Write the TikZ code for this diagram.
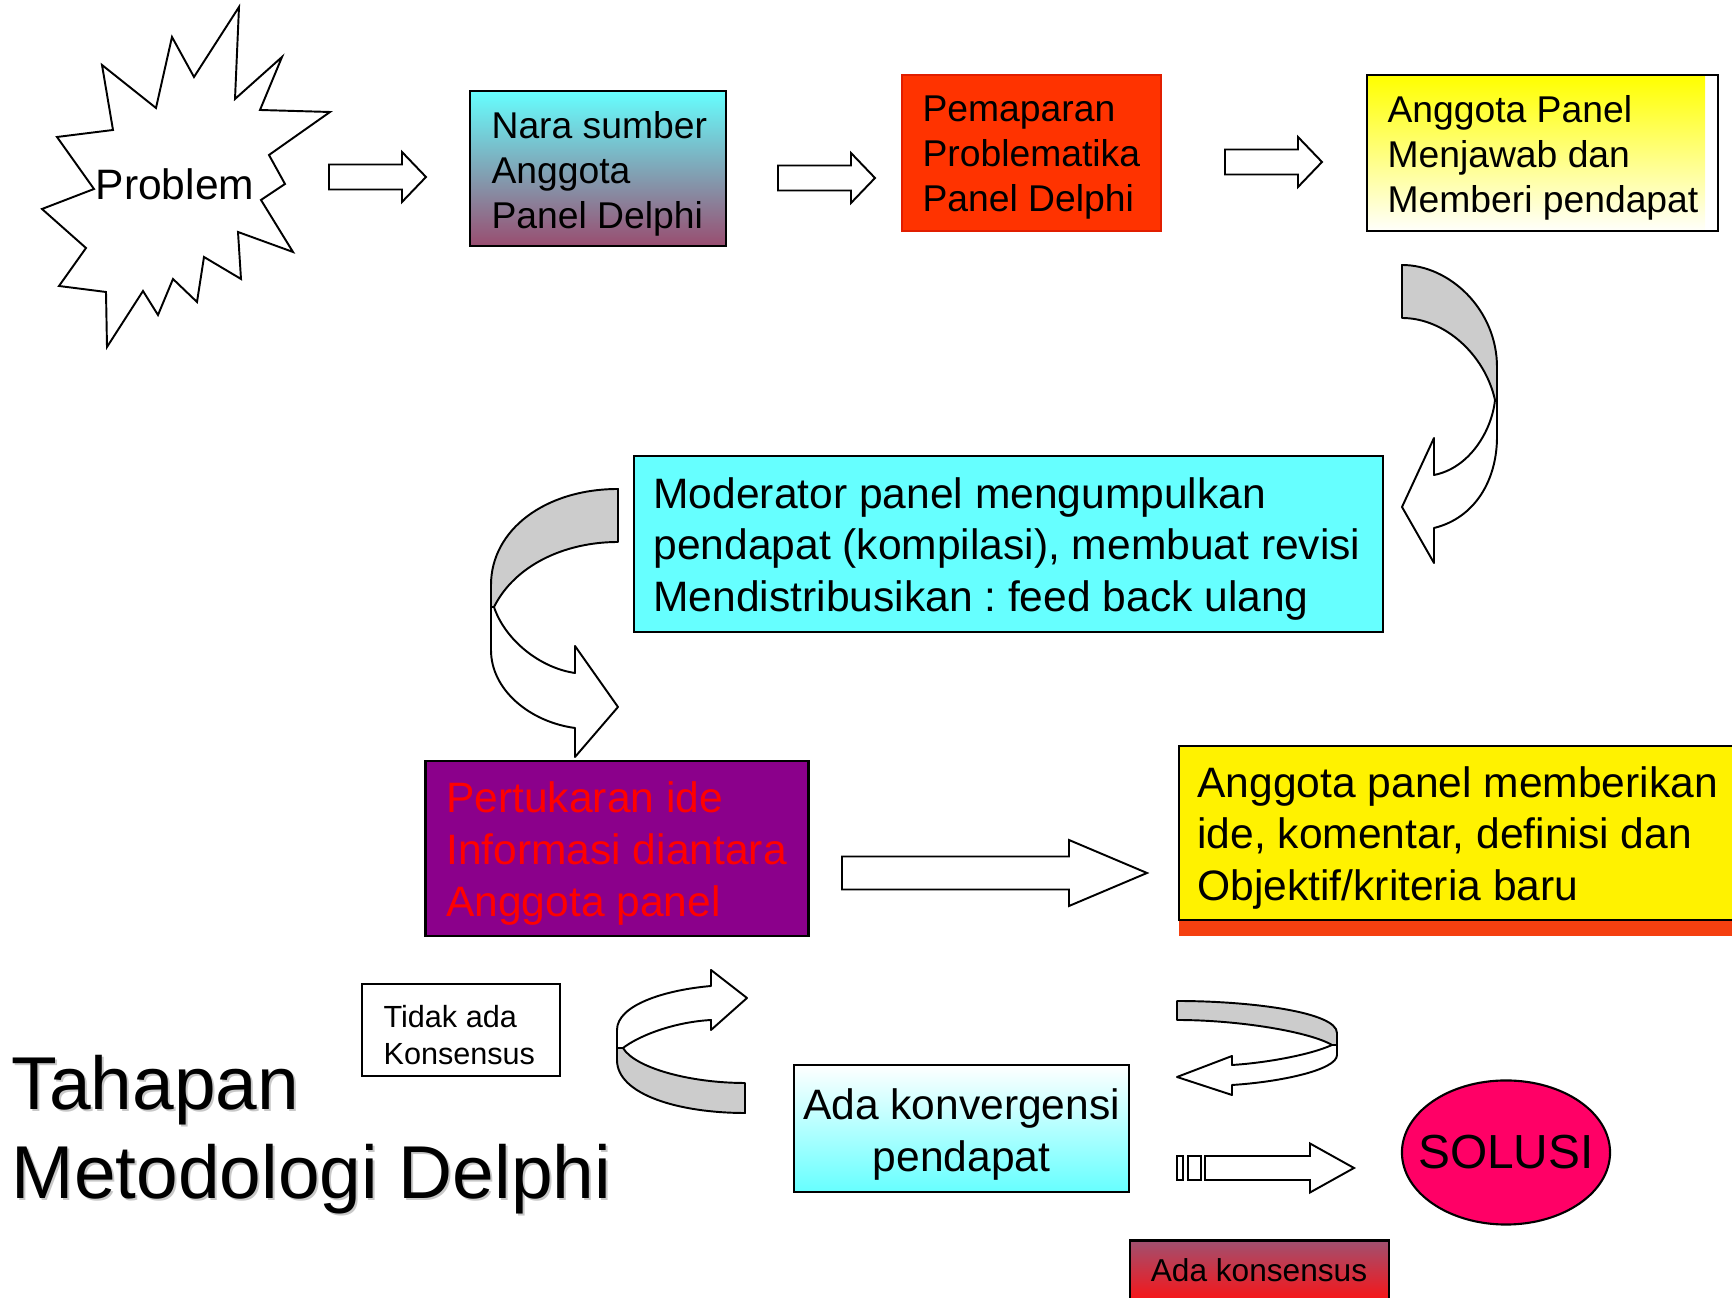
\documentclass[tikz,border=0pt]{standalone}
\usepackage{fontspec}
\setmainfont{Liberation Sans}
\usetikzlibrary{shapes.geometric}
\frenchspacing
\definecolor{cyanbox}{RGB}{102,255,255}
\definecolor{mauve}{RGB}{153,77,112}
\definecolor{redorange}{RGB}{255,51,0}
\definecolor{redline}{RGB}{225,30,0}
\definecolor{purplebox}{RGB}{139,0,139}
\definecolor{stripred}{RGB}{245,64,16}
\definecolor{solusipink}{RGB}{255,0,102}
\definecolor{konsmauve}{RGB}{160,80,112}
\definecolor{konsred}{RGB}{255,16,16}
\definecolor{bandgrey}{RGB}{204,204,204}
\definecolor{titleshadow}{RGB}{200,200,200}
\newcommand{\fatarrow}[6]{%
  \draw[blockarrow] (#1,{#4-#5}) -- (#2,{#4-#5}) -- (#2,{#4-#6}) -- (#3,#4)
    -- (#2,{#4+#6}) -- (#2,{#4+#5}) -- (#1,{#4+#5}) -- cycle;}
\begin{document}
\begin{tikzpicture}[x=0.01cm, y=-0.01cm,
    box/.style={draw, line width=0.6pt, inner sep=0pt},
    txt/.style={align=left, inner sep=0pt, anchor=west, yshift=-0.05cm},
    band/.style={draw, line width=0.55pt, line join=round},
    blockarrow/.style={draw, line width=0.55pt, fill=white},
    fsmall/.style={font=\fontsize{10.6}{12.8}\selectfont},
    fmid/.style={font=\fontsize{12.1}{14.7}\selectfont},
    ftiny/.style={font=\fontsize{8.7}{10.5}\selectfont},
    title/.style={font=\fontsize{21.3}{25}\selectfont, anchor=base west, inner sep=0pt}]
  \useasboundingbox (0,0) rectangle (1732,1298);

  \draw[line width=0.55pt, fill=white] (239,7) -- (235,99) -- (282,57) -- (260,110) -- (330,112)
    -- (269,155) -- (285,184) -- (261,200) -- (293,252) -- (238,232) -- (241,279) -- (204,257)
    -- (197,302) -- (173,279) -- (158,315) -- (143,291) -- (107,347) -- (106,292) -- (59,286)
    -- (86,248) -- (42,209) -- (94,189) -- (57,137) -- (113,130) -- (102,65) -- (156,108)
    -- (172,37) -- (194,77) -- cycle;
  \node[fmid, inner sep=0pt] (problem) at (175,184) {Problem};

  \fatarrow{329}{402}{426}{177}{12.5}{25}
  \fatarrow{778}{851}{875}{178}{12.5}{25}
  \fatarrow{1225}{1298}{1322}{162}{12.5}{25}
  \fatarrow{842}{1069}{1147}{873}{16.5}{33}
  \fatarrow{1205}{1310}{1354}{1168}{12}{24.5}
  \draw[blockarrow] (1177,1156) rectangle (1183,1180);
  \draw[blockarrow] (1188,1156) rectangle (1201,1180);

  \node[box, top color=cyanbox, bottom color=mauve, minimum width=2.56cm, minimum height=1.55cm] (nara) at (598,168.5) {};
  \node[txt, fsmall] (naratext) at ([xshift=0.22cm]nara.west) {Nara sumber\\Anggota\\Panel Delphi};

  \node[box, fill=redorange, draw=redline, minimum width=2.59cm, minimum height=1.56cm] (pemaparan) at (1031.5,153) {};
  \node[txt, fsmall] (pemaparantext) at ([xshift=0.21cm]pemaparan.west) {Pemaparan\\Problematika\\Panel Delphi};

  \shade[top color=yellow, bottom color=yellow!2] (1368,76) rectangle (1705,230);
  \node[box, minimum width=3.51cm, minimum height=1.56cm] (anggota) at (1542.5,153) {};
  \node[txt, fsmall] (anggotatext) at ([xshift=0.21cm]anggota.west) {Anggota Panel\\Menjawab dan\\Memberi pendapat};

  \draw[band, fill=bandgrey] (1402,265) .. controls (1450,265) and (1497,310) .. (1497,367) -- (1497,400)
    -- (1495,400) .. controls (1485,355) and (1445,318) .. (1402,318) -- cycle;
  \draw[band, fill=white] (1495,400) .. controls (1492,430) and (1470,468) .. (1434,475) -- (1434,438)
    -- (1402,507) -- (1434,563) -- (1434,528) .. controls (1475,518) and (1497,480) .. (1497,437) -- (1497,400) -- cycle;

  \node[box, fill=cyanbox, minimum width=7.49cm, minimum height=1.76cm] (moderator) at (1008.5,544) {};
  \node[txt, fmid] (moderatortext) at ([xshift=0.2cm]moderator.west) {Moderator panel mengumpulkan\\pendapat (kompilasi), membuat revisi\\Mendistribusikan : feed back ulang};

  \draw[band, fill=bandgrey] (618,489) .. controls (545,489) and (491,530) .. (491,585) -- (491,607)
    -- (494,607) .. controls (515,565) and (565,542) .. (618,542) -- cycle;
  \draw[band, fill=white] (494,607) .. controls (505,640) and (540,668) .. (575,673) -- (575,646)
    -- (618,707) -- (575,757) -- (575,728) .. controls (530,722) and (491,690) .. (491,650) -- (491,607) -- cycle;

  \node[box, fill=purplebox, line width=0.8pt, minimum width=3.82cm, minimum height=1.75cm] (tukar) at (617,848.5) {};
  \node[txt, fmid, text=red] (tukartext) at ([xshift=0.21cm]tukar.west) {Pertukaran ide\\Informasi diantara\\Anggota panel};

  \fill[stripred] (1179,920) rectangle (1745,936);
  \node[box, fill=yellow, minimum width=5.66cm, minimum height=1.74cm] (ide) at (1462,833) {};
  \node[txt, fmid] (idetext) at ([xshift=0.19cm]ide.west) {Anggota panel memberikan\\ide, komentar, definisi dan\\Objektif/kriteria baru};

  \node[box, fill=white, minimum width=1.98cm, minimum height=0.92cm] (tidak) at (461,1030) {};
  \node[txt, ftiny] (tidaktext) at ([xshift=0.22cm]tidak.west) {Tidak ada\\Konsensus};

  \draw[band, fill=bandgrey] (745,1083) -- (745,1113) .. controls (680,1113) and (617,1095) .. (617,1060)
    -- (617,1048) -- (623,1048) .. controls (635,1068) and (690,1083) .. (745,1083) -- cycle;
  \draw[band, fill=white] (623,1048) .. controls (640,1035) and (675,1022) .. (711,1020) -- (711,1030)
    -- (747,998) -- (711,970) -- (711,986) .. controls (665,990) and (617,1005) .. (617,1030) -- (617,1048) -- cycle;

  \node[box, top color=white, bottom color=cyanbox, minimum width=3.35cm, minimum height=1.27cm] (konvergensi) at (961.5,1128.5) {};
  \node[fmid, align=center, inner sep=0pt, yshift=-0.06cm] (konvergensitext) at (konvergensi) {Ada konvergensi\\pendapat};

  \draw[band, fill=bandgrey] (1177,1001) .. controls (1250,1001) and (1337,1012) .. (1337,1033) -- (1337,1045)
    -- (1332,1045) .. controls (1310,1032) and (1240,1020) .. (1177,1020) -- cycle;
  \draw[band, fill=white] (1332,1045) .. controls (1310,1055) and (1265,1063) .. (1232,1065) -- (1232,1056)
    -- (1177,1077) -- (1232,1095) -- (1232,1085) .. controls (1280,1082) and (1337,1070) .. (1337,1055) -- (1337,1045) -- cycle;

  \node[ellipse, draw, line width=0.6pt, fill=solusipink, minimum width=2.08cm, minimum height=1.44cm,
    inner sep=0pt] (solusi) at (1506,1152.5) {};
  \node[font=\fontsize{13.6}{16}\selectfont, inner sep=0pt] (solusitext) at (solusi) {SOLUSI};

  \node[box, top color=konsmauve, bottom color=konsred, minimum width=2.59cm, minimum height=0.65cm] (konsensus) at (1259.5,1273) {};
  \node[font=\fontsize{9}{11}\selectfont, anchor=base, inner sep=0pt] (konsensustext) at (1259,1282) {Ada konsensus};

  \node[title, text=titleshadow] (tshadow1) at (13,1112) {Tahapan};
  \node[title, text=titleshadow] (tshadow2) at (13,1201) {Metodologi Delphi};
  \node[title] (title1) at (11,1110) {Tahapan};
  \node[title] (title2) at (11,1199) {Metodologi Delphi};
\end{tikzpicture}
\end{document}
